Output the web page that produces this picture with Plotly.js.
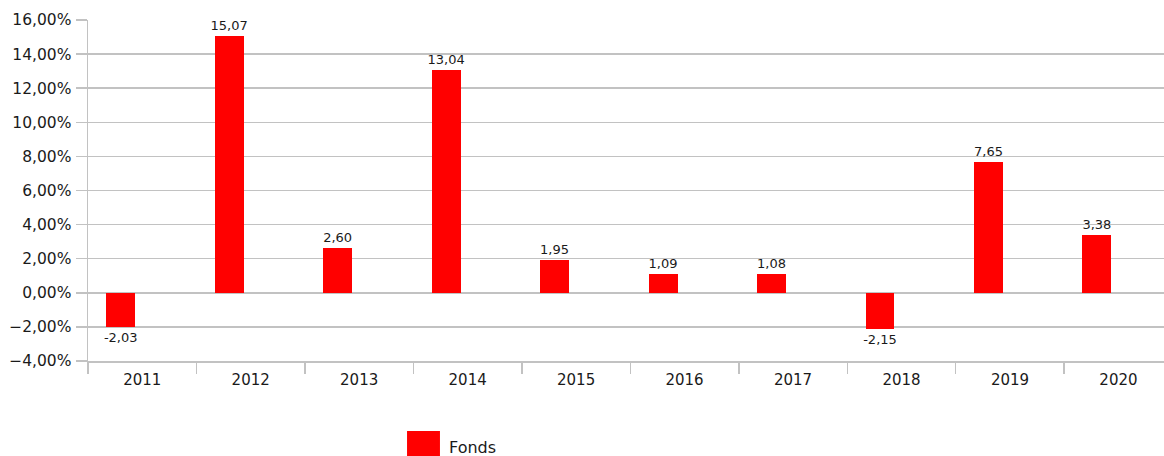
<!DOCTYPE html>
<html>
<head>
<meta charset="utf-8">
<script src="https://cdn.plot.ly/plotly-3.0.1.min.js"></script>
<style>html,body{margin:0;padding:0;background:#fff;}#chart{width:1164px;height:456px;}</style>
</head>
<body>
<div id="chart"></div>
<script>
const years = ["2011","2012","2013","2014","2015","2016","2017","2018","2019","2020"];
const fonds = [-2.03, 15.07, 2.60, 13.04, 1.95, 1.09, 1.08, -2.15, 7.65, 3.38];
const seriesName = "Fonds";

const font = "DejaVu Sans, Verdana, sans-serif";
const grid = "#c2c2c2";

const trace = {
  type: "bar",
  x: years,
  y: fonds,
  name: seriesName,
  marker: {color: "#ff0000"},
  width: 0.267,
  offset: -0.332,
  texttemplate: "%{y:.2f}",
  textposition: "outside",
  constraintext: "none",
  textfont: {family: font, size: 13, color: "#1a1a1a"},
  cliponaxis: false,
  showlegend: false,
  hoverinfo: "skip"
};

const layout = {
  width: 1164, height: 456,
  margin: {l: 88, r: 0, t: 20, b: 95},
  paper_bgcolor: "#fff", plot_bgcolor: "#fff",
  separators: ",.",
  font: {family: font, size: 15, color: "#1a1a1a"},
  showlegend: false,
  uniformtext: {mode: false},
  xaxis: {
    type: "category",
    range: [-0.5, 9.42],
    showgrid: false,
    showline: true, linecolor: grid, linewidth: 1.5,
    ticks: "outside", tickson: "boundaries", ticklen: 11, tickcolor: grid, tickwidth: 1.5,
    tickfont: {family: font, size: 15, color: "#1a1a1a"},
    ticklabelstandoff: 4
  },
  yaxis: {
    range: [-4, 16],
    dtick: 2, tick0: 0,
    tickformat: ".2f", ticksuffix: "%",
    showgrid: true, gridcolor: grid, gridwidth: 1.5,
    zeroline: false,
    showline: true, linecolor: grid, linewidth: 1.5,
    ticks: "outside", ticklen: 11, tickcolor: grid, tickwidth: 1.5,
    tickfont: {family: font, size: 15.5, color: "#1a1a1a"},
    ticklabelstandoff: 1
  },
  bargap: 0,
  shapes: [{
    type: "rect", xref: "paper", yref: "paper",
    x0: 0.2965, x1: 0.3271, y0: -0.2053, y1: -0.33,
    fillcolor: "#ff0000", line: {width: 0}
  }],
  annotations: [{
    xref: "paper", yref: "paper", x: 0.3336, y: -0.2522,
    xanchor: "left", yanchor: "middle", showarrow: false,
    text: seriesName, font: {family: font, size: 16, color: "#1a1a1a"}
  }]
};

Plotly.newPlot("chart", [trace], layout, {staticPlot: true, displayModeBar: false});
</script>
</body>
</html>
